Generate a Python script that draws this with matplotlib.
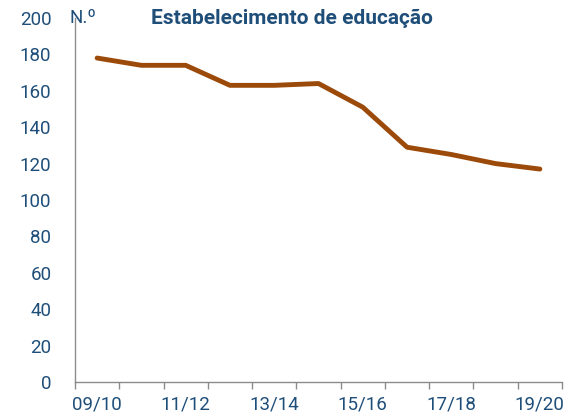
import matplotlib.pyplot as plt
import numpy as np

plt.rcParams['font.family'] = ['Roboto', 'DejaVu Sans']

anos = ['09/10', '10/11', '11/12', '12/13', '13/14', '14/15',
        '15/16', '16/17', '17/18', '18/19', '19/20']
estabelecimentos = [178, 174, 174, 163, 163, 164, 151, 129, 125, 120, 117]

azul = '#1F4E79'
castanho = '#9C4A0A'
cinza = '#8C8C8C'

fig = plt.figure(figsize=(5.85, 4.2), dpi=100)
ax = fig.add_axes([75 / 585, 38 / 420, 487 / 585, 364 / 420])

x = np.arange(len(anos))
ax.plot(x, estabelecimentos, color=castanho, linewidth=3.5, solid_capstyle='round')

ax.set_xlim(-0.5, len(anos) - 0.5)
ax.set_ylim(0, 200)
ax.set_yticks(range(0, 201, 20))

ax.set_xticks(x[::2])
ax.set_xticklabels(anos[::2])
ax.set_xticks(np.arange(-0.5, len(anos), 1), minor=True)
ax.tick_params(axis='x', which='major', length=0, pad=10, labelsize=13.5, labelcolor=azul)
ax.tick_params(axis='x', which='minor', length=5, width=1, color=cinza, direction='out')
ax.tick_params(axis='y', length=0, pad=17, labelsize=13.5, labelcolor=azul)

for s in ['top', 'right']:
    ax.spines[s].set_visible(False)
for s in ['left', 'bottom']:
    ax.spines[s].set_color(cinza)
    ax.spines[s].set_linewidth(1)

ax.text(-0.012, 1.0, 'N.º', transform=ax.transAxes, ha='left', va='center',
        fontsize=13.5, color=azul)
fig.text(292 / 585, 1 - 18 / 420, 'Estabelecimento de educação', ha='center', va='center',
         fontsize=15, fontweight='bold', color=azul)

fig.savefig('out.png', dpi=100)
